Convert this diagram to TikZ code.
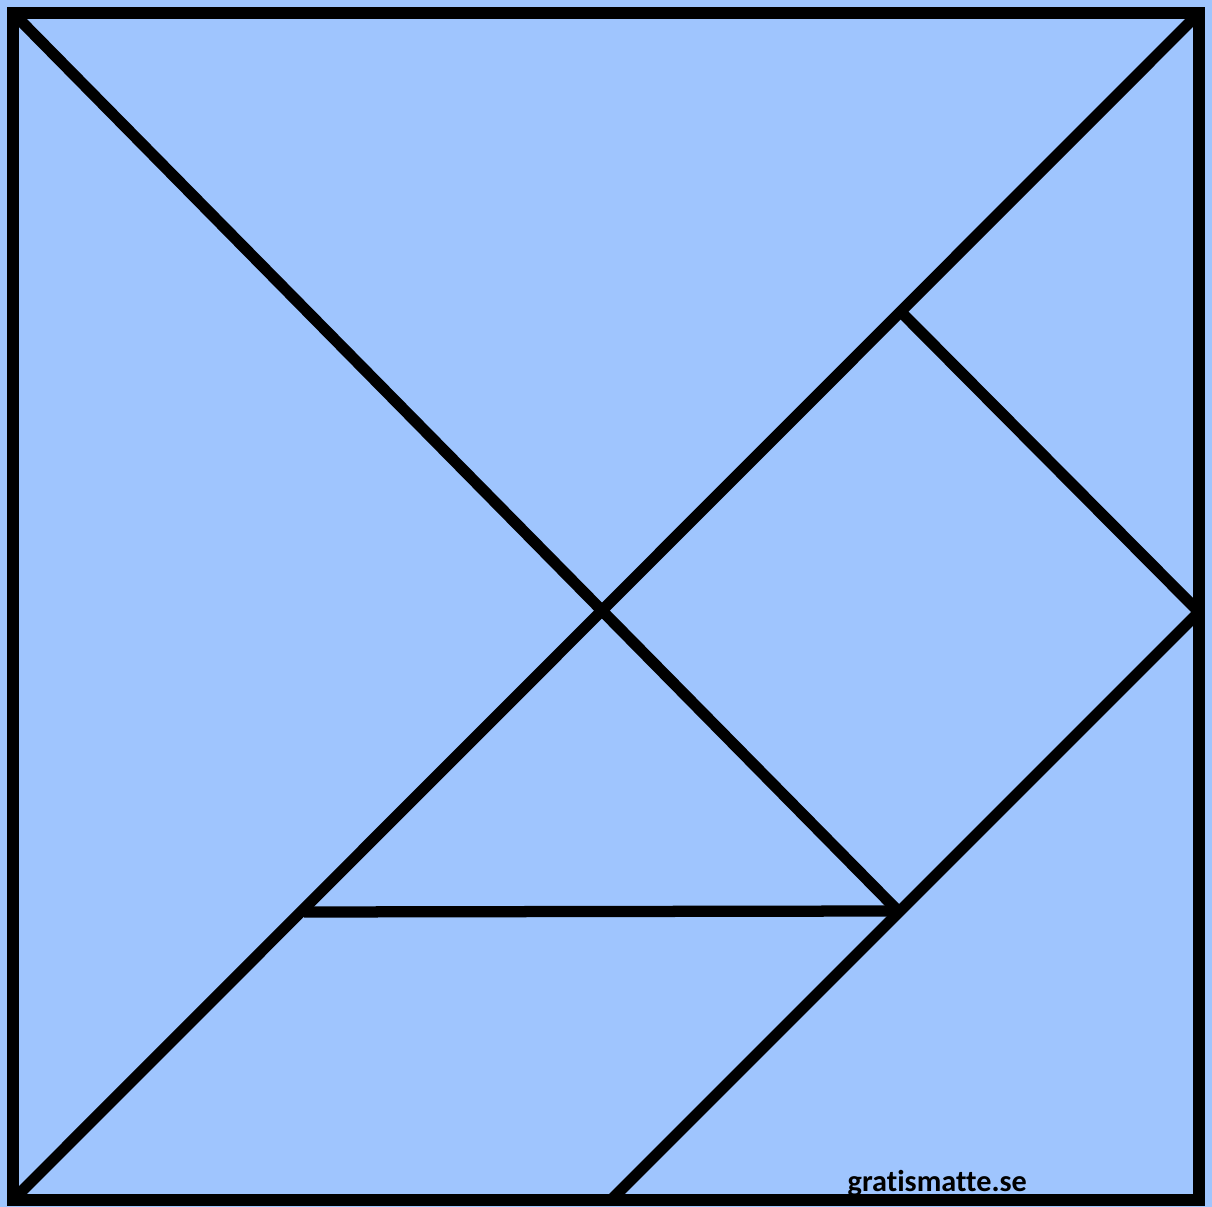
\documentclass[tikz,border=0pt]{standalone}
\usepackage{fontspec}
\setmainfont[Ligatures={NoCommon}]{Carlito}
\definecolor{tanfill}{RGB}{159,197,254}
\tikzset{
  piece/.style={draw=black, line width=3.2pt, line join=miter},
  mark label/.style={font=\bfseries\fontsize{8.6pt}{10pt}\selectfont, inner sep=0pt, anchor=base west}
}
\begin{document}
\begin{tikzpicture}[x=0.01cm, y=-0.01cm]
\fill[tanfill] (0,0) rectangle (1212,1207);
\useasboundingbox (0,0) rectangle (1212,1207);
\coordinate (TL) at (13,13);
\coordinate (TR) at (1199,13);
\coordinate (BR) at (1199,1200);
\coordinate (BL) at (13,1200);
\coordinate (C) at (603,610);
\coordinate (P) at (902,313);
\coordinate (RM) at (1199,612);
\coordinate (Q) at (898,911);
\coordinate (H) at (304,912);
\coordinate (BM) at (611,1200);
\draw[piece] (BL) -- (TR);
\draw[piece] (TL) -- (Q);
\draw[piece] (P) -- (RM);
\draw[piece] (RM) -- (BM);
\draw[piece] (H) -- (Q);
\draw[piece] (TL) -- (TR) -- (BR) -- (BL) -- cycle;
\node[mark label] (wm) at (847,1191) {gratismatte.se};
\end{tikzpicture}
\end{document}
